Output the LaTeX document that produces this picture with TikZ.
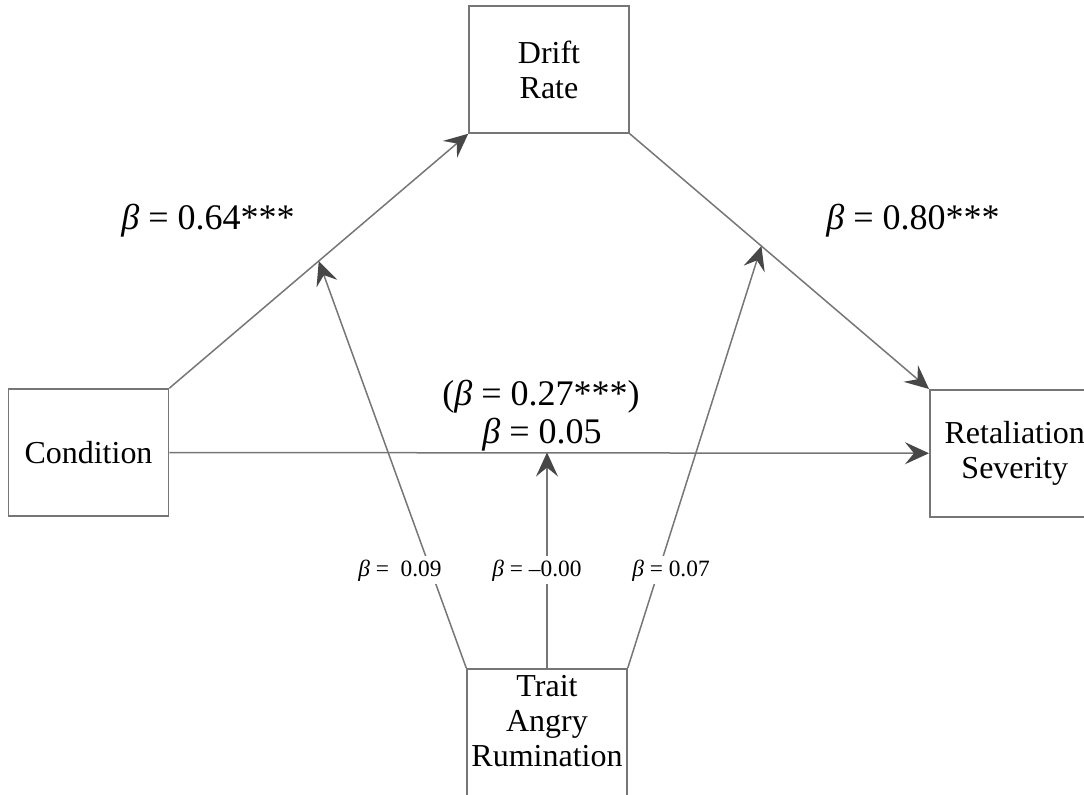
\documentclass[tikz,border=0pt]{standalone}
\usepackage{fontspec}
\setmainfont{Liberation Serif}
\usetikzlibrary{arrows.meta, positioning, calc}
\definecolor{linegray}{HTML}{767676}
\definecolor{headgray}{HTML}{474747}
\newcommand{\bt}{\textit{β}}
\newcommand{\boxfont}{\fontsize{18.2}{20}\selectfont}
\newcommand{\coeffont}{\fontsize{20.5}{22}\selectfont}
\newcommand{\modfont}{\fontsize{13.3}{15}\selectfont}

\begin{document}
\begin{tikzpicture}[
  x=0.2mm, y=-0.2mm,
  box/.style={rectangle, draw=linegray, line width=0.3mm, minimum width=32mm, minimum height=25.4mm, inner sep=0pt, font=\boxfont, align=center},
  arr/.style={draw=linegray, line width=0.3mm, -{Stealth[length=4.8mm, width=4.4mm, inset=1.8mm, color=headgray]}},
  coef/.style={font=\coeffont, anchor=base},
  mod/.style={font=\modfont, anchor=base, fill=white, inner sep=2pt},
]
  \useasboundingbox (0,0) rectangle (1084,795);
  \clip (0,0) rectangle (1084,795);

  % Variables
  \node[box] (drift) at (549,69.5) {Drift\\Rate};
  \node[box] (cond) at (88.5,452.5) {Condition};
  \node[box, minimum width=34mm, anchor=north west] (retal) at (929,389) {Retaliation\\Severity};
  \node[box, minimum height=32mm, anchor=north] (trait) at (547,668) {};
  \node[font=\boxfont, align=center, anchor=north, inner sep=0pt] (traittext) at (547,675) {Trait\\Angry\\Rumination};

  % Mediation paths
  \draw[arr] (cond.north east) -- (drift.south west);
  \draw[arr] (drift.south east) -- (retal.north west);
  \draw[arr] (cond.east) -- (retal.west);

  % Moderation by rumination
  \coordinate (m1) at ($(cond.north east)!0.5!(drift.south west)$);
  \coordinate (m2) at ($(drift.south east)!0.44!(retal.north west)$);
  \coordinate (m3) at (trait.north |- cond.east);
  \draw[arr] (trait.north west) -- (m1);
  \draw[arr] (trait.north) -- (m3);
  \draw[arr] (trait.north east) -- (m2);

  % Coefficients
  \node[coef] (ba) at (208,229) {\bt{} = 0.64***};
  \node[coef] (bb) at (913,229) {\bt{} = 0.80***};
  \node[coef] (btot) at (541,405) {(\bt{} = 0.27***)};
  \node[coef] (bdir) at (542,443) {\bt{} = 0.05};
  \node[mod] (wa) at (400,576) {\bt{} =\ \ 0.09};
  \node[mod] (wc) at (537,576) {\bt{} = –0.00};
  \node[mod] (wb) at (671,576) {\bt{} = 0.07};
\end{tikzpicture}
\end{document}
